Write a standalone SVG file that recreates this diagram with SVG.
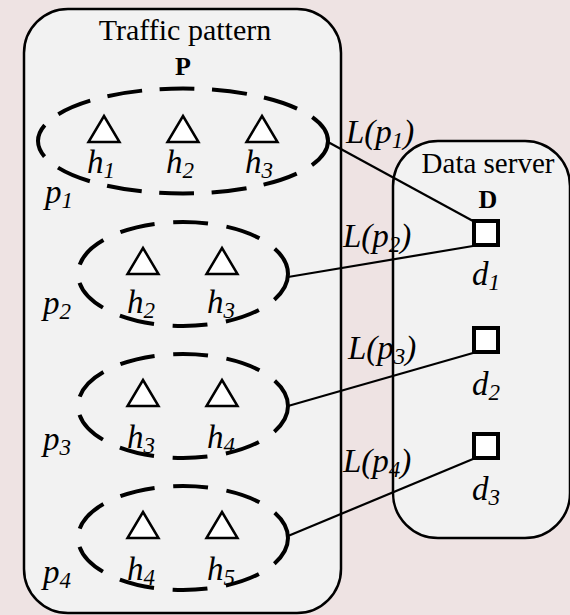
<svg xmlns="http://www.w3.org/2000/svg" width="570" height="615" viewBox="0 0 570 615">
<style>
.box{fill:#f2f2f2;stroke:#000;stroke-width:2.5}
.ell{fill:none;stroke:#000;stroke-width:4;stroke-linecap:butt}
.tri{fill:#fff;stroke:#000;stroke-width:2.5;stroke-linejoin:miter}
.sq{fill:#fff;stroke:#000;stroke-width:4}
.conn{stroke:#000;stroke-width:2.2;fill:none}
.t{font-family:"Liberation Serif","Times New Roman",serif;font-size:30px;fill:#000}
.b{font-family:"Liberation Serif","Times New Roman",serif;font-size:26px;font-weight:bold;fill:#000}
.i{font-family:"Liberation Serif","Times New Roman",serif;font-size:33px;font-style:italic;fill:#000}
.s{font-size:23px}
</style>
<rect width="570" height="615" fill="#eee3e3"/>
<g id="traffic-pattern">
<rect class="box" x="24" y="9" width="317" height="604" rx="44" ry="44"/>
<text class="t" x="185" y="40" text-anchor="middle">Traffic pattern</text>
<text class="b" x="183" y="75" text-anchor="middle">P</text>
</g>
<g id="data-server">
<rect class="box" x="393" y="141" width="177" height="397" rx="45" ry="45"/>
<text class="t" x="488" y="173" text-anchor="middle" style="font-size:29px">Data server</text>
<text class="b" x="488" y="208" text-anchor="middle">D</text>
</g>
<g id="connectors">
<line class="conn" x1="328" y1="142" x2="473" y2="221"/>
<line class="conn" x1="288" y1="277" x2="473" y2="246"/>
<line class="conn" x1="288" y1="406" x2="473" y2="353"/>
<line class="conn" x1="288" y1="536" x2="473" y2="459"/>
<text class="i" x="346" y="143">L(p<tspan class="s" dy="5">1</tspan><tspan dy="-5">)</tspan></text>
<text class="i" x="343" y="247">L(p<tspan class="s" dy="5">2</tspan><tspan dy="-5">)</tspan></text>
<text class="i" x="348" y="359">L(p<tspan class="s" dy="5">3</tspan><tspan dy="-5">)</tspan></text>
<text class="i" x="343" y="472">L(p<tspan class="s" dy="5">4</tspan><tspan dy="-5">)</tspan></text>
</g>
<g id="p1">
<path class="ell" d="M328 141 A145 52.5 0 1 1 38 141 A145 52.5 0 1 1 328 141" stroke-dasharray="35 17.5" stroke-dashoffset="5"/>
<polygon class="tri" points="104,116 119.5,142 88.5,142"/>
<polygon class="tri" points="183,116 198.5,142 167.5,142"/>
<polygon class="tri" points="262,116 277.5,142 246.5,142"/>
<text class="i" x="87" y="173">h<tspan class="s" dy="5">1</tspan></text>
<text class="i" x="166" y="173">h<tspan class="s" dy="5">2</tspan></text>
<text class="i" x="245" y="173">h<tspan class="s" dy="5">3</tspan></text>
<text class="i" x="45" y="203">p<tspan class="s" dy="5">1</tspan></text>
</g>
<g id="p2">
<path class="ell" d="M288 274 A105 52 0 1 1 78 274 A105 52 0 1 1 288 274" stroke-dasharray="35 18.6" stroke-dashoffset="5"/>
<polygon class="tri" points="143,248 158.5,274 127.5,274"/>
<polygon class="tri" points="222,248 237.5,274 206.5,274"/>
<text class="i" x="127" y="313">h<tspan class="s" dy="5">2</tspan></text>
<text class="i" x="207" y="313">h<tspan class="s" dy="5">3</tspan></text>
<text class="i" x="43" y="314">p<tspan class="s" dy="5">2</tspan></text>
</g>
<g id="p3">
<path class="ell" d="M288 406 A105 52 0 1 1 78 406 A105 52 0 1 1 288 406" stroke-dasharray="35 18.6" stroke-dashoffset="5"/>
<polygon class="tri" points="143,380 158.5,406 127.5,406"/>
<polygon class="tri" points="222,380 237.5,406 206.5,406"/>
<text class="i" x="127" y="448">h<tspan class="s" dy="5">3</tspan></text>
<text class="i" x="207" y="448">h<tspan class="s" dy="5">4</tspan></text>
<text class="i" x="43" y="450">p<tspan class="s" dy="5">3</tspan></text>
</g>
<g id="p4">
<path class="ell" d="M288 538 A105 52 0 1 1 78 538 A105 52 0 1 1 288 538" stroke-dasharray="35 18.6" stroke-dashoffset="5"/>
<polygon class="tri" points="143,512 158.5,538 127.5,538"/>
<polygon class="tri" points="222,512 237.5,538 206.5,538"/>
<text class="i" x="127" y="580">h<tspan class="s" dy="5">4</tspan></text>
<text class="i" x="207" y="580">h<tspan class="s" dy="5">5</tspan></text>
<text class="i" x="43" y="583">p<tspan class="s" dy="5">4</tspan></text>
</g>
<g id="d1">
<rect class="sq" x="474" y="221" width="24" height="24"/>
<text class="i" x="472" y="285">d<tspan class="s" dy="5">1</tspan></text>
</g>
<g id="d2">
<rect class="sq" x="474" y="328" width="24" height="24"/>
<text class="i" x="472" y="395">d<tspan class="s" dy="5">2</tspan></text>
</g>
<g id="d3">
<rect class="sq" x="474" y="434" width="24" height="24"/>
<text class="i" x="472" y="500">d<tspan class="s" dy="5">3</tspan></text>
</g>
</svg>
